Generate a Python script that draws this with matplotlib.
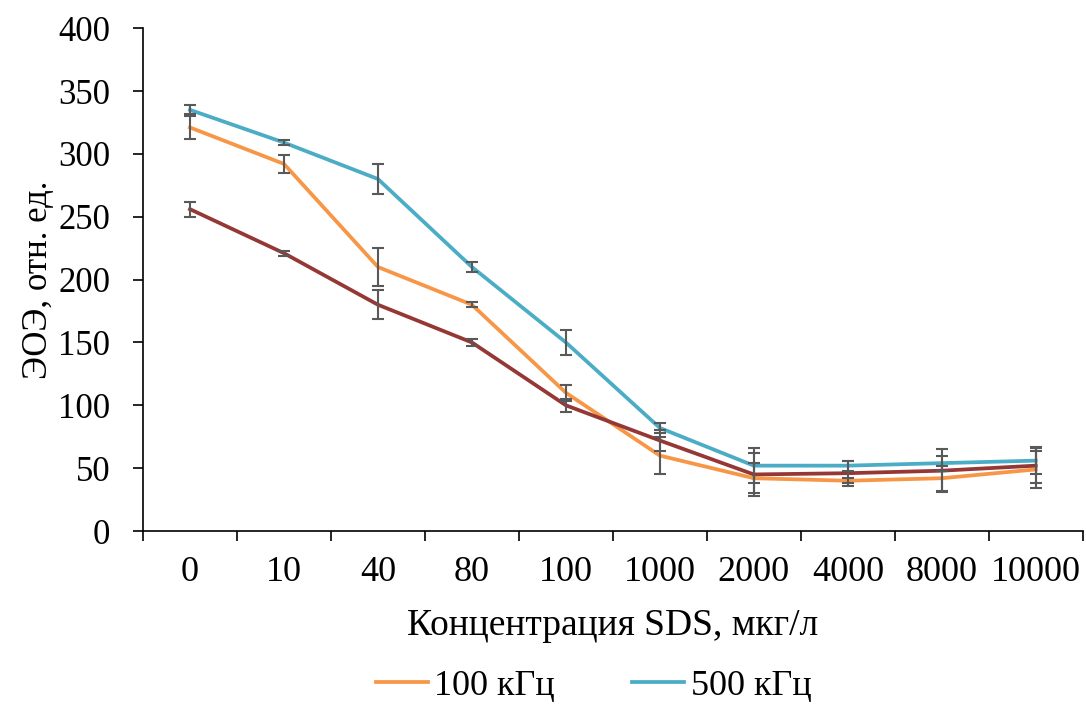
import numpy as np
import matplotlib
matplotlib.use("Agg")
import matplotlib.pyplot as plt
from matplotlib.ticker import FixedLocator, NullFormatter

categories = ["0", "10", "40", "80", "100", "1000", "2000", "4000", "8000", "10000"]

eoe_100k = [321, 292, 210, 180, 110, 60, 42, 40, 42, 49]
err_100k = [9, 7, 15, 2, 6.5, 14.5, 12, 2, 10, 15]

eoe_500k = [335, 309, 280, 210, 150, 82, 52, 52, 54, 56]
err_500k = [3.5, 2, 12, 4, 10, 4, 14, 4, 6, 11]

eoe_third = [256, 221, 180, 150, 100, 72, 45, 46, 48, 52]
err_third = [6, 2, 11.5, 3, 5, 8, 17, 10, 17, 14]

plt.rcParams['font.family'] = ['Liberation Serif', 'DejaVu Serif']
plt.rcParams['font.size'] = 25

fig = plt.figure(figsize=(10.86, 7.04), dpi=100)
ax = fig.add_axes([0.1317, 0.2457, 0.8653, 0.7143])

x = np.arange(len(categories))

series = [
    (eoe_100k, err_100k, '#F79646', "100 кГц"),
    (eoe_500k, err_500k, '#4BACC6', "500 кГц"),
    (eoe_third, err_third, '#953735', None),
]

lines = []
for vals, errs, color, label in series:
    ln, = ax.plot(x, vals, color=color, lw=2.7, label=label, zorder=3)
    ax.errorbar(x, vals, yerr=errs, fmt='none', ecolor='#595959',
                elinewidth=1.5, capsize=4.5, capthick=1.5, zorder=4)
    if label is not None:
        lines.append(ln)

ax.set_xlim(-0.5, len(categories) - 0.5)
ax.set_ylim(0, 400)
ax.set_yticks(np.arange(0, 401, 50))
ax.set_xticks(x)
ax.set_xticklabels(categories)
ax.xaxis.set_minor_locator(FixedLocator(np.arange(-0.5, len(categories), 1)))
ax.xaxis.set_minor_formatter(NullFormatter())
ax.tick_params(axis='x', which='major', length=0, pad=18, labelsize=26)
ax.tick_params(axis='x', which='minor', length=7.5, width=1.2, direction='out')
ax.tick_params(axis='y', length=7.5, width=1.2, direction='out', pad=16,
               labelsize=25)

ax.spines['top'].set_visible(False)
ax.spines['right'].set_visible(False)
ax.spines['left'].set_linewidth(1.2)
ax.spines['bottom'].set_linewidth(1.2)

ax.set_xlabel("Концентрация SDS, мкг/л", labelpad=14, fontsize=27)
ax.set_ylabel("ЭОЭ, отн. ед.", labelpad=2, fontsize=25)

fig.legend(handles=lines, loc='center', bbox_to_anchor=(0.5465, 0.025),
           ncol=2, frameon=False, fontsize=26, handlelength=1.45,
           handletextpad=0.17, columnspacing=2.14)

fig.savefig("out.png", dpi=100)
